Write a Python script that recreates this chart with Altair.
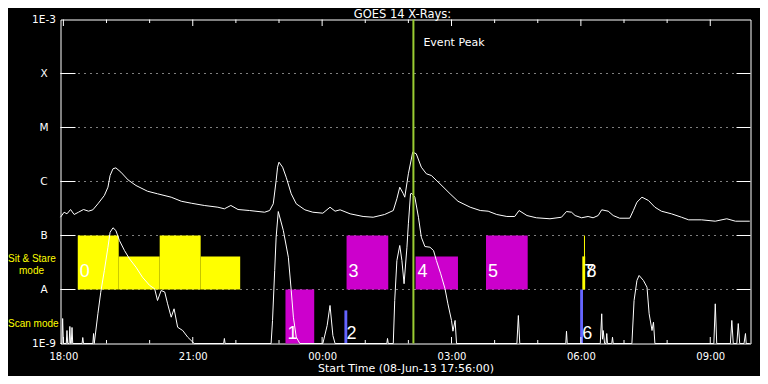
import altair as alt
import pandas as pd

# ---------------- data ----------------
upper_time = ["17:56","18:01","18:05","18:10","18:15","18:21","18:28","18:35","18:41","18:48",
              "18:57","19:02","19:05","19:09","19:13","19:20","19:30","19:41","19:57","20:11",
              "20:30","20:44","20:58","21:16","21:35","21:44","21:53","22:03","22:19","22:40",
              "22:47","22:52","22:56","22:58","23:00","23:05","23:10","23:17","23:24","23:36",
              "23:47","00:01","00:11","00:18","00:25","00:39","00:57","01:11","01:27","01:39",
              "01:44","01:48","01:53","01:55","02:00","02:06","02:11","02:18","02:25","02:32",
              "02:44","02:58","03:09","03:26","03:40","03:51","04:03","04:17","04:28","04:34",
              "04:45","04:58","05:17","05:33","05:40","05:47","05:52","06:01","06:10","06:17",
              "06:24","06:29","06:38","06:45","06:54","07:08","07:13","07:18","07:25","07:34",
              "07:43","07:52","08:06","08:20","08:30","08:48","09:07","09:23","09:35","09:55"]
upper_flux = [2.18e-7,2.70e-7,2.52e-7,3.03e-7,2.45e-7,2.70e-7,3.03e-7,2.82e-7,2.99e-7,3.86e-7,
              5.51e-7,7.84e-7,1.29e-6,1.72e-6,1.79e-6,1.49e-6,1.07e-6,8.43e-7,6.61e-7,5.92e-7,
              5.12e-7,4.31e-7,3.96e-7,3.60e-7,3.34e-7,3.12e-7,3.60e-7,3.03e-7,2.90e-7,2.70e-7,
              2.90e-7,3.86e-7,1.04e-6,1.84e-6,2.28e-6,1.84e-6,1.20e-6,5.92e-7,3.86e-7,2.99e-7,
              2.70e-7,2.59e-7,3.34e-7,2.82e-7,2.99e-7,2.52e-7,2.25e-7,2.18e-7,2.45e-7,2.90e-7,
              4.79e-7,7.84e-7,5.92e-7,5.12e-7,1.39e-6,3.49e-6,3.26e-6,1.84e-6,1.39e-6,1.29e-6,
              9.06e-7,5.92e-7,4.31e-7,3.34e-7,2.90e-7,2.82e-7,2.45e-7,2.25e-7,2.25e-7,2.90e-7,
              2.34e-7,2.13e-7,2.04e-7,2.18e-7,2.78e-7,2.70e-7,2.34e-7,2.13e-7,2.25e-7,2.13e-7,
              2.34e-7,2.99e-7,2.82e-7,2.34e-7,2.09e-7,2.09e-7,2.90e-7,4.14e-7,5.12e-7,4.45e-7,
              3.34e-7,2.82e-7,2.52e-7,2.18e-7,1.95e-7,1.95e-7,1.84e-7,2.04e-7,1.84e-7,1.84e-7]

lower_time = ["17:56","17:58","17:59","18:00","18:04","18:05","18:06","18:08","18:09","18:10",
              "18:11","18:12","18:13","18:26","18:27","18:28","18:41","18:42","18:43","18:48",
              "18:52","18:57","19:02","19:05","19:09","19:13","19:18","19:25","19:32","19:41",
              "19:50","20:00","20:07","20:11","20:16","20:21","20:25","20:30","20:34","20:39",
              "20:46","20:53","21:02","21:43","21:44","21:45","22:49","22:51","22:54","22:56",
              "22:59","23:06","23:13","23:17","23:20","23:24","23:29","00:01","00:07","00:11",
              "00:15","00:18","01:30","01:31","01:32","01:39","01:41","01:44","01:48","01:51",
              "01:54","01:58","02:00","02:03","02:05","02:09","02:14","02:18","02:23","02:30",
              "02:35","02:39","02:45","02:51","02:55","03:00","03:02","03:05","03:07","04:31",
              "04:33","04:35","05:39","05:40","05:41","06:27","06:29","06:30","06:31","06:33",
              "06:35","06:36","06:37","06:43","06:44","06:45","07:11","07:14","07:18","07:21",
              "07:27","07:32","07:35","07:39","07:41","07:43","09:05","09:07","09:09","09:28",
              "09:30","09:32","09:37","09:39","09:41","09:47","09:49","09:50","09:55"]
lower_flux = [1.0e-9,1.0e-9,2.9e-9,1.0e-9,1.0e-9,1.74e-9,1.0e-9,1.0e-9,2.07e-9,1.0e-9,
              1.0e-9,1.98e-9,1.0e-9,1.0e-9,1.29e-9,1.0e-9,1.0e-9,1.53e-9,1.0e-9,3.55e-9,
              8.9e-9,2.25e-8,6.07e-8,1.15e-7,1.39e-7,1.24e-7,8.07e-8,5.27e-8,3.70e-8,2.59e-8,
              1.69e-8,1.19e-8,1.03e-8,6.26e-9,9.57e-9,9.0e-9,5.43e-9,3.07e-9,4.39e-9,2.0e-9,
              1.74e-9,1.31e-9,1.0e-9,1.0e-9,1.24e-9,1.0e-9,1.0e-9,2.67e-9,2.25e-8,9.3e-8,
              2.78e-7,1.24e-7,3.96e-8,9.57e-9,3.07e-9,1.31e-9,1.0e-9,1.0e-9,2.15e-9,5.06e-9,
              1.40e-9,1.0e-9,1.0e-9,1.24e-9,1.0e-9,1.0e-9,6.26e-9,3.44e-8,6.53e-8,3.44e-8,
              1.28e-8,6.07e-8,1.65e-7,5.92e-7,6.0e-7,5.12e-7,2.18e-7,9.3e-8,6.25e-8,6.07e-8,
              5.27e-8,3.44e-8,1.95e-8,1.03e-8,5.43e-9,2.67e-9,1.69e-9,2.67e-9,1.0e-9,1.0e-9,
              3.30e-9,1.0e-9,1.0e-9,1.69e-9,1.0e-9,1.0e-9,3.55e-9,1.2e-9,1.74e-9,1.0e-9,
              1.0e-9,1.53e-9,1.0e-9,1.0e-9,1.31e-9,1.0e-9,1.0e-9,6.26e-9,1.47e-8,1.82e-8,
              1.47e-8,1.10e-8,3.55e-9,1.74e-9,2.48e-9,1.0e-9,1.0e-9,5.43e-9,1.0e-9,1.0e-9,
              2.67e-9,1.0e-9,1.0e-9,2.34e-9,1.0e-9,1.0e-9,1.53e-9,1.0e-9,1.0e-9]

yellow_start = ["18:20", "19:17", "20:14", "21:11", "06:02"]
yellow_end = ["19:17", "20:14", "21:11", "22:06", "06:06"]
yellow_low = [1e-8, 1e-8, 1e-8, 1e-8, 1e-8]
yellow_high = [1e-7, 4.1e-8, 1e-7, 4.1e-8, 4.1e-8]

magenta_start = ["23:09", "00:34", "02:10", "03:48"]
magenta_end = ["23:49", "01:32", "03:09", "04:46"]
magenta_low = [1e-9, 1e-8, 1e-8, 1e-8]
magenta_high = [1e-8, 1e-7, 4.1e-8, 1e-7]

blue_start = ["00:31", "05:59"]
blue_end = ["00:35", "06:03"]
blue_low = [1e-9, 1e-9]
blue_high = [4.1e-9, 1e-8]

yline_time = ["06:05"]
yline_low = [1e-8]
yline_high = [1e-7]

event_label = ["0", "1", "2", "3", "4", "5", "6", "7", "8"]
event_label_time = ["18:20", "23:09", "00:31", "00:34", "02:10", "03:48", "05:59", "06:02", "06:05"]
event_label_flux = [2.09e-8, 1.53e-9, 1.53e-9, 2.09e-8, 2.09e-8, 2.09e-8, 1.53e-9, 2.09e-8, 2.09e-8]

peak_time = ["02:07"]
peak_text = ["Event Peak"]
peak_text_flux = [3.62e-4]

mode_text = ["Sit & Stare", "Scan mode"]
mode_text_flux = [3.6e-8, 2.25e-9]
mode_text2 = ["mode"]
mode_text2_flux = [2.18e-8]

level_flux = [1e-8, 1e-7, 1e-6, 1e-5, 1e-4]
y_tick_values = [1e-9, 1e-8, 1e-7, 1e-6, 1e-5, 1e-4, 1e-3]
y_tick_names = ["1E-9", "A", "B", "C", "M", "X", "1E-3"]

x_start, x_end = "17:56", "09:56"
x_label_times = ["18:00", "21:00", "00:00", "03:00", "06:00", "09:00"]
x_minor_times = ["19:00", "20:00", "22:00", "23:00", "01:00", "02:00",
                 "04:00", "05:00", "07:00", "08:00"]

title_text = ["GOES 14 X-Rays:"]
x_title = "Start Time (08-Jun-13 17:56:00)"

# ---------------- helpers ----------------
def ts(hm):
    h, m = map(int, hm.split(":"))
    day = 8 if h >= 17 else 9
    return pd.Timestamp(2013, 6, day, h, m)

def dt(hm):
    h, m = map(int, hm.split(":"))
    day = 8 if h >= 17 else 9
    return alt.DateTime(year=2013, month=6, date=day, hours=h, minutes=m)

W, H = 690, 324
FONT = "DejaVu Sans"
WHITE = "white"

xs = alt.Scale(domain=[dt(x_start), dt(x_end)])
ys = alt.Scale(type="log", domain=[1e-9, 1e-3], nice=False)

label_expr = "[" + ",".join(f"'{n}'" for n in y_tick_names) + "][round(log(datum.value)/LN10)+9]"

y_axis = alt.Axis(values=y_tick_values, labelExpr=label_expr, title=None, tickSize=0,
                  domain=False, grid=False, labelAlign="center", labelBaseline="middle",
                  labelPadding=17, labelFlush=True, labelFlushOffset=0, labelOverlap=False,
                  labelColor=WHITE, labelFont=FONT, labelFontSize=10.5)
x_axis = alt.Axis(values=[dt(t) for t in x_label_times], format="%H:%M", title=x_title,
                  tickSize=0, domain=False, grid=False, labelPadding=7.5, labelFlush=False,
                  labelOverlap=False, labelColor=WHITE, labelFont=FONT, labelFontSize=10,
                  titleColor=WHITE, titleFont=FONT, titleFontSize=11, titleFontWeight="normal",
                  titlePadding=1.5)

def X(field="t"):
    return alt.X(f"{field}:T", scale=xs, axis=x_axis)

def Y(field="flux"):
    return alt.Y(f"{field}:Q", scale=ys, axis=y_axis)

# ---------------- frames ----------------
levels = pd.DataFrame({"flux": level_flux})
upper = pd.DataFrame({"t": [ts(t) for t in upper_time], "flux": upper_flux})
lower = pd.DataFrame({"t": [ts(t) for t in lower_time], "flux": lower_flux})

def bars(s, e, lo, hi):
    return pd.DataFrame({"t": [ts(v) for v in s], "t2": [ts(v) for v in e],
                         "flux": lo, "flux2": hi})

yellow = bars(yellow_start, yellow_end, yellow_low, yellow_high)
magenta = bars(magenta_start, magenta_end, magenta_low, magenta_high)
blue = bars(blue_start, blue_end, blue_low, blue_high)
yline = pd.DataFrame({"t": [ts(v) for v in yline_time], "flux": yline_low, "flux2": yline_high})
labels = pd.DataFrame({"t": [ts(v) for v in event_label_time], "flux": event_label_flux,
                       "txt": event_label})
peak = pd.DataFrame({"t": [ts(v) for v in peak_time], "flux": peak_text_flux, "txt": peak_text})
major = pd.DataFrame({"t": [ts(v) for v in x_label_times]})
minor = pd.DataFrame({"t": [ts(v) for v in x_minor_times]})
modes = pd.DataFrame({"flux": mode_text_flux, "txt": mode_text})
modes2 = pd.DataFrame({"flux": mode_text2_flux, "txt": mode_text2})
titles = pd.DataFrame({"txt": title_text})

# ---------------- layers ----------------
grid = alt.Chart(levels).mark_rule(color=WHITE, strokeWidth=1, strokeDash=[1, 5]).encode(
    y=Y(), x=alt.value(0), x2=alt.value(W))
tick_l = alt.Chart(levels).mark_rule(color=WHITE, strokeWidth=1).encode(
    y=Y(), x=alt.value(0), x2=alt.value(15))
tick_r = alt.Chart(levels).mark_rule(color=WHITE, strokeWidth=1).encode(
    y=Y(), x=alt.value(W - 14), x2=alt.value(W))

def rect_layer(df, color):
    return alt.Chart(df).mark_rect(color=color).encode(
        x=X(), x2="t2:T", y=Y(), y2="flux2:Q")

yellow_l = rect_layer(yellow, "#ffff00")
magenta_l = rect_layer(magenta, "#cc00cc")
blue_l = rect_layer(blue, "#6464ff")
yline_l = alt.Chart(yline).mark_rule(color="#ffff00", strokeWidth=1).encode(
    x=X(), y=Y(), y2="flux2:Q")

lower_l = alt.Chart(lower).mark_line(color=WHITE, strokeWidth=1).encode(x=X(), y=Y())
upper_l = alt.Chart(upper).mark_line(color=WHITE, strokeWidth=1).encode(x=X(), y=Y())

def hour_ticks(df, y0, y1):
    return alt.Chart(df).mark_rule(color=WHITE, strokeWidth=1).encode(
        x=X(), y=alt.value(y0), y2=alt.value(y1))

tmaj = hour_ticks(major, 0, 6.5)
tmin = hour_ticks(minor, 0, 3.5)
bmaj = hour_ticks(major, H, H - 6.5)
bmin = hour_ticks(minor, H, H - 3.5)

peak_rule = alt.Chart(peak).mark_rule(color="#9acd32", strokeWidth=2).encode(
    x=X(), y=alt.value(0), y2=alt.value(H))
peak_txt = alt.Chart(peak).mark_text(align="left", baseline="middle", dx=10, color=WHITE,
                                     font=FONT, fontSize=11).encode(x=X(), y=Y(), text="txt:N")
num_txt = alt.Chart(labels).mark_text(align="left", baseline="middle", dx=2, color=WHITE,
                                      font="Liberation Sans Narrow, Liberation Sans",
                                      fontSize=18).encode(x=X(), y=Y(), text="txt:N")
mode_l = alt.Chart(modes).mark_text(align="left", baseline="middle", color="#ffff00",
                                    font="Liberation Sans", fontSize=10).encode(
    x=alt.value(-52.5), y=Y(), text="txt:N")
mode_l2 = alt.Chart(modes2).mark_text(align="left", baseline="middle", color="#ffff00",
                                      font="Liberation Sans", fontSize=10).encode(
    x=alt.value(-41.5), y=Y(), text="txt:N")
title_l = alt.Chart(titles).mark_text(align="center", baseline="alphabetic", color=WHITE,
                                      font=FONT, fontSize=11.5).encode(
    x=alt.value(W / 2 - 3), y=alt.value(-2), text="txt:N")

chart = alt.layer(
    grid, tick_l, tick_r, yellow_l, magenta_l, blue_l, yline_l, lower_l, upper_l,
    tmaj, tmin, bmaj, bmin, peak_rule, peak_txt, num_txt, mode_l, mode_l2, title_l
).properties(
    width=W, height=H,
    background="black",
    padding={"left": 52.5, "top": 11.5, "right": 9.5, "bottom": 32.5},
    autosize=alt.AutoSizeParams(type="none"),
).configure_view(stroke=WHITE, strokeWidth=1)

chart.save("out.html", embed_options={"renderer": "svg", "actions": False})
